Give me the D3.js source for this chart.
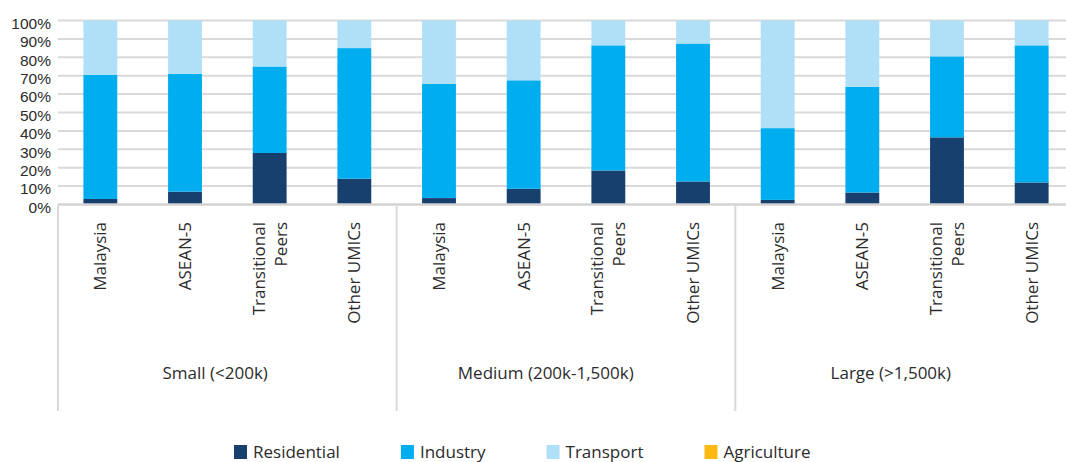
<!DOCTYPE html>
<html>
<head>
<meta charset="utf-8">
<script src="https://cdn.jsdelivr.net/npm/d3@7"></script>
<style>
  html, body { margin: 0; padding: 0; background: #fff; }
  svg { display: block; font-family: "Open Sans", sans-serif; }
</style>
</head>
<body>
<svg id="chart" width="1066" height="462"></svg>
<script>
// City-size groups and peer sets shown within each group
const groups = ["Small (<200k)", "Medium (200k-1,500k)", "Large (>1,500k)"];
const peers = ["Malaysia", "ASEAN-5", "Transitional Peers", "Other UMICs"];

// Sector shares (%), ordered group by group, peer by peer
const residential = [3, 7, 28, 14,   3.5, 8.5, 18.5, 12.5,   2.5, 6.5, 36.5, 12];
const industry    = [67.5, 64, 47, 71,   62, 59, 68, 75,   39, 57.5, 44, 74.5];
const transport   = [29.5, 29, 25, 15,   34.5, 32.5, 13.5, 12.5,   58.5, 36, 19.5, 13.5];
const agriculture = [0, 0, 0, 0,   0, 0, 0, 0,   0, 0, 0, 0];

const yTicks = [0, 10, 20, 30, 40, 50, 60, 70, 80, 90, 100];

const sectors = ["Residential", "Industry", "Transport", "Agriculture"];
const colors = ["#18406e", "#00adee", "#afe0f8", "#fdb913"];
const seriesValues = [residential, industry, transport, agriculture];

const rows = [];
groups.forEach((g, gi) => {
  peers.forEach((p, pi) => {
    const i = gi * peers.length + pi;
    const row = { group: g, peer: p };
    sectors.forEach((s, si) => { row[s] = seriesValues[si][i]; });
    rows.push(row);
  });
});

const svg = d3.select("#chart");
const plotLeft = 58, plotRight = 1074;
const yTop = 20.5, yBottom = 204.5;
const axisBottom = 411;
const textColor = "#2b2b2b";
const gridColor = "#d9d9d9";

const x0 = d3.scaleBand().domain(groups).range([plotLeft, plotRight]).padding(0);
const x1 = d3.scaleBand().domain(peers).range([0, x0.bandwidth()])
  .paddingInner(0.6).paddingOuter(0.3);
const y = d3.scaleLinear().domain([0, 100]).range([yBottom, yTop]);

// Horizontal gridlines
svg.append("g").selectAll("line")
  .data(yTicks.filter(t => t > 0))
  .join("line")
  .attr("x1", plotLeft).attr("x2", plotRight)
  .attr("y1", d => y(d)).attr("y2", d => y(d))
  .attr("stroke", gridColor).attr("stroke-width", 2);

// Y axis labels
const yAxis = d3.axisLeft(y).tickValues(yTicks).tickFormat(d => d + "%").tickSize(0).tickPadding(7);
const yg = svg.append("g").attr("transform", `translate(${plotLeft},0)`).call(yAxis);
yg.select(".domain").remove();
yg.selectAll("text")
  .attr("font-family", "'Liberation Sans', Arial, sans-serif")
  .attr("font-size", 15.5)
  .attr("fill", textColor)
  .attr("dy", "0.5em");

// Stacked bars
const stack = d3.stack().keys(sectors);
const stacked = stack(rows);
svg.append("g").selectAll("g")
  .data(stacked)
  .join("g")
  .attr("fill", (d, i) => colors[i])
  .selectAll("rect")
  .data(d => d)
  .join("rect")
  .attr("x", d => x0(d.data.group) + x1(d.data.peer))
  .attr("width", x1.bandwidth())
  .attr("y", d => y(d[1]))
  .attr("height", d => y(d[0]) - y(d[1]));

// Baseline and group dividers
svg.append("line")
  .attr("x1", plotLeft).attr("x2", plotRight)
  .attr("y1", yBottom).attr("y2", yBottom)
  .attr("stroke", "#d3d3d3").attr("stroke-width", 2.5);

svg.append("g").selectAll("line")
  .data(groups.map(g => x0(g)).concat([plotRight]))
  .join("line")
  .attr("x1", d => d).attr("x2", d => d)
  .attr("y1", yBottom).attr("y2", axisBottom)
  .attr("stroke", gridColor).attr("stroke-width", 2);

// Peer labels, rotated, possibly on two lines
const catTop = 222;
const lineGap = 22;
const catG = svg.append("g");
rows.forEach(r => {
  const cx = x0(r.group) + x1(r.peer) + x1.bandwidth() / 2;
  const parts = r.peer === "Transitional Peers" ? ["Transitional", "Peers"] : [r.peer];
  parts.forEach((t, li) => {
    const off = (li - (parts.length - 1) / 2) * lineGap;
    catG.append("text")
      .attr("transform", `translate(${cx + off},${catTop}) rotate(-90)`)
      .attr("text-anchor", "end")
      .attr("dy", "0.36em")
      .attr("font-size", 17)
      .attr("fill", textColor)
      .text(t);
  });
});

// Group labels
const grpG = svg.append("g");
groups.forEach(g => {
  const cx = x0(g) + x0.bandwidth() / 2;
  const t = grpG.append("text")
    .attr("y", 379)
    .attr("font-size", 17)
    .attr("fill", textColor)
    .text(g);
  const w = t.node().getComputedTextLength();
  t.attr("x", cx - w * 0.615);
});

// Legend
const legend = svg.append("g");
let lx = 234;
sectors.forEach((s, i) => {
  legend.append("rect")
    .attr("x", lx).attr("y", 445)
    .attr("width", 13).attr("height", 14)
    .attr("fill", colors[i]);
  const t = legend.append("text")
    .attr("x", lx + 19).attr("y", 458)
    .attr("font-size", 17)
    .attr("fill", textColor)
    .text(s);
  lx += 19 + t.node().getComputedTextLength() + 61;
});
</script>
</body>
</html>
